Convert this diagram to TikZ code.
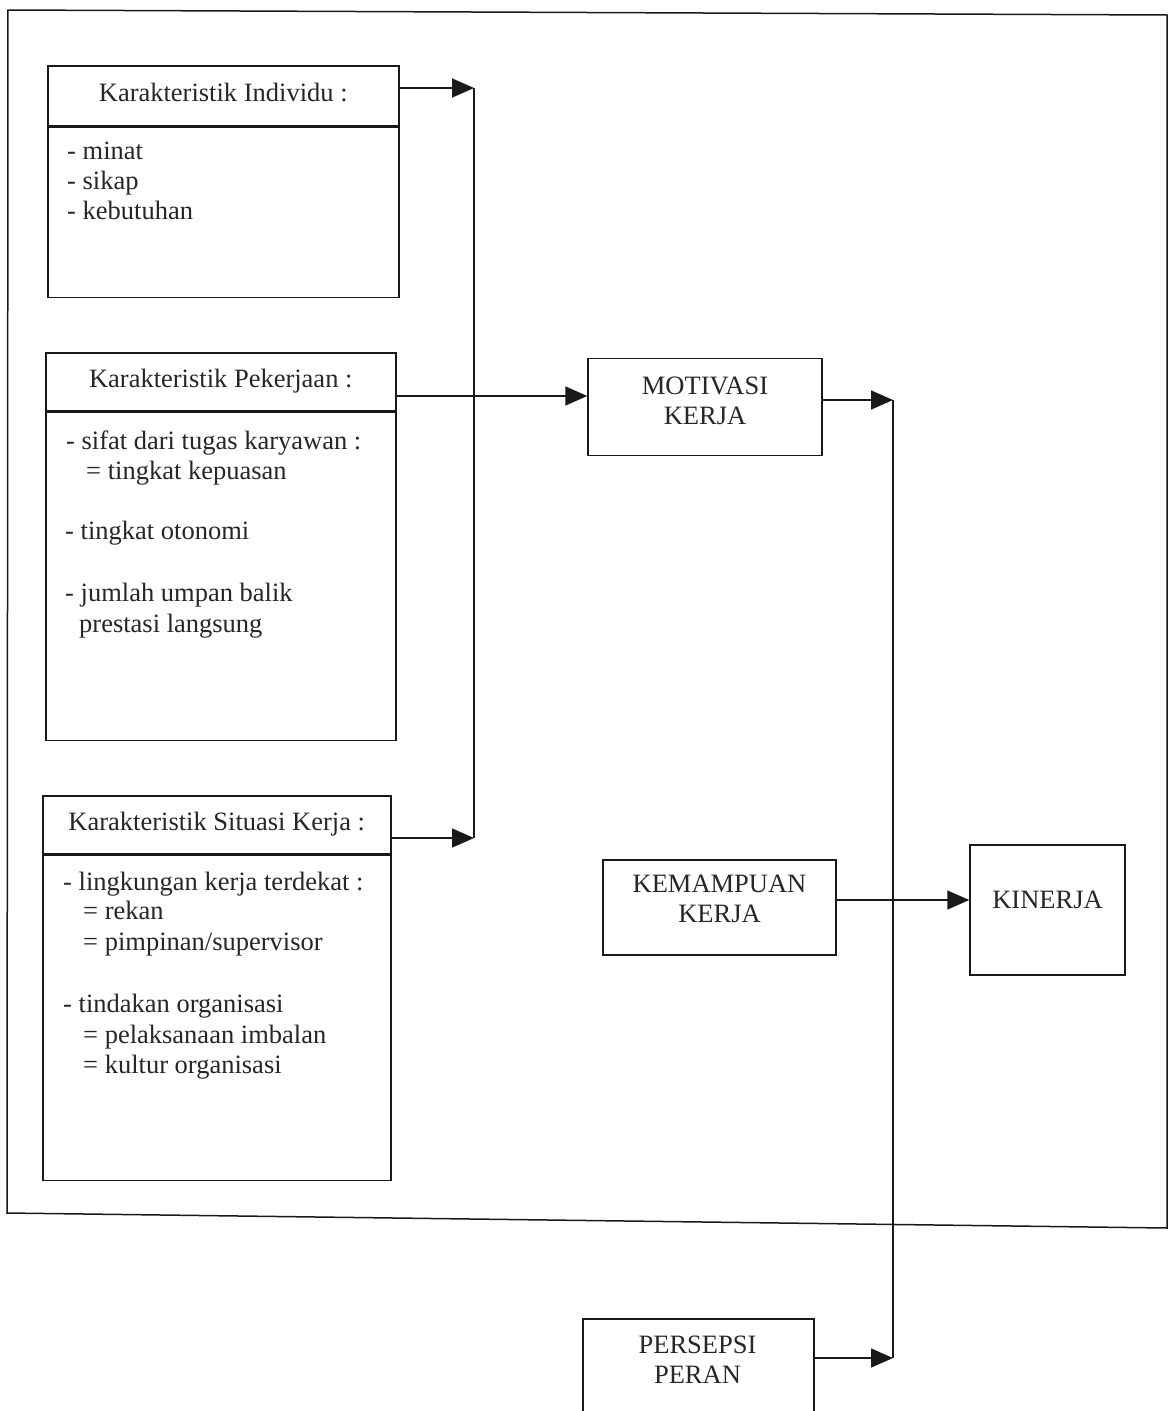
\documentclass[tikz,border=0pt]{standalone}
\usepackage{fontspec}
\setmainfont{Liberation Serif}
\usetikzlibrary{arrows.meta}
\begin{document}
\begin{tikzpicture}[x=1pt,y=-1pt,
  txt/.style={font=\fontsize{26.5}{30}\selectfont, inner sep=0pt, text=black!85},
  box/.style={draw=black!90, line width=1.5pt, inner sep=0pt, anchor=north west},
  hdr/.style={box, txt, text height=18pt, text depth=7pt},
  cbox/.style={draw=black!90, line width=1.5pt, inner sep=0pt, txt, align=center},
  line/.style={draw=black!90, line width=1.5pt},
  arr/.style={line, -{Triangle[length=22pt,width=19pt]}}]
\useasboundingbox (0,0) rectangle (1171,1411);

% outer frame
\draw[line] (8,10) -- (1167,15) -- (1167,1228) -- (7,1213) -- cycle;

% Karakteristik Individu
\node[hdr, minimum width=351pt, minimum height=60pt] (indh) at (47,65) {Karakteristik Individu :};
\node[box, minimum width=351pt, minimum height=170pt] (indb) at (indh.south west) {};
\node[txt, anchor=base west] (ind1) at (67,159) {- minat};
\node[txt, anchor=base west] (ind2) at (67,189) {- sikap};
\node[txt, anchor=base west] (ind3) at (67,219) {- kebutuhan};

% Karakteristik Pekerjaan
\node[hdr, minimum width=350pt, minimum height=58pt] (pekh) at (45,352) {Karakteristik Pekerjaan :};
\node[box, minimum width=350pt, minimum height=328pt] (pekb) at (pekh.south west) {};
\node[txt, anchor=base west] (pek1) at (66,449) {- sifat dari tugas karyawan :};
\node[txt, anchor=base west] (pek2) at (86,479) {= tingkat kepuasan};
\node[txt, anchor=base west] (pek3) at (65,539) {- tingkat otonomi};
\node[txt, anchor=base west] (pek4) at (65,601) {- jumlah umpan balik};
\node[txt, anchor=base west] (pek5) at (79,632) {prestasi langsung};

% Karakteristik Situasi Kerja
\node[hdr, minimum width=348pt, minimum height=58pt] (sith) at (42,795) {Karakteristik Situasi Kerja :};
\node[box, minimum width=348pt, minimum height=325pt] (sitb) at (sith.south west) {};
\node[txt, anchor=base west] (sit1) at (63,890) {- lingkungan kerja terdekat :};
\node[txt, anchor=base west] (sit2) at (83,919) {= rekan};
\node[txt, anchor=base west] (sit3) at (83,950) {= pimpinan/supervisor};
\node[txt, anchor=base west] (sit4) at (63,1012) {- tindakan organisasi};
\node[txt, anchor=base west] (sit5) at (83,1043) {= pelaksanaan imbalan};
\node[txt, anchor=base west] (sit6) at (83,1073) {= kultur organisasi};

% right-hand boxes
\node[cbox, minimum width=234pt, minimum height=97pt, text height=47pt, text depth=12pt] (mot) at (705,407) {MOTIVASI\\KERJA};
\node[cbox, minimum width=233pt, minimum height=95pt, text height=47pt, text depth=17pt] (kem) at (719.5,907.5) {KEMAMPUAN\\KERJA};
\node[cbox, minimum width=155pt, minimum height=130pt, text height=17pt, text depth=20pt] (kin) at (1047.5,910) {KINERJA};
\node[box, minimum width=231pt, minimum height=110pt] (pp) at (582,1318) {};
\node[txt, align=center] (ppt) at (697.5,1360) {PERSEPSI\\PERAN};

% junction points
\coordinate (j1) at (474,88);
\coordinate (j2) at (474,838);
\coordinate (a1) at (0,396);
\coordinate (j3) at (893,400);
\coordinate (j4) at (893,1358);
\coordinate (a2) at (0,900);

% connectors
\draw[arr] (indh.east |- j1) -- (j1);
\draw[line] (j1) -- (j2);
\draw[arr] (sith.east |- j2) -- (j2);
\draw[arr] (pekh.east |- a1) -- (mot.west |- a1);
\draw[arr] (mot.east |- j3) -- (j3);
\draw[line] (j3) -- (j4);
\draw[arr] (pp.east |- j4) -- (j4);
\draw[arr] (kem.east |- a2) -- (kin.west |- a2);
\end{tikzpicture}
\end{document}
